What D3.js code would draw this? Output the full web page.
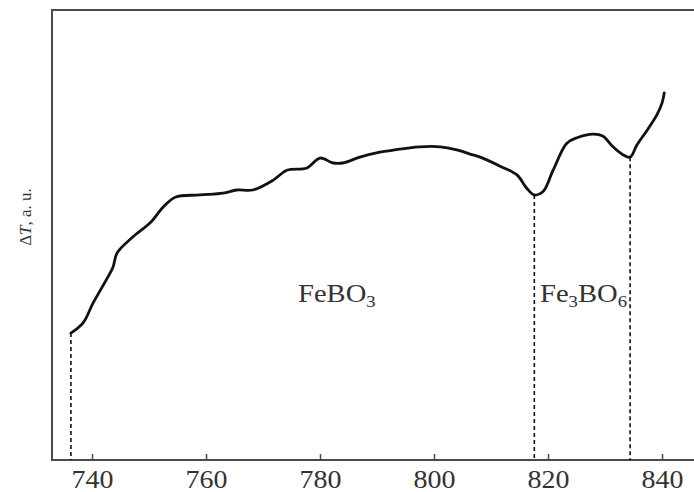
<!DOCTYPE html>
<html><head><meta charset="utf-8">
<script src="https://cdn.jsdelivr.net/npm/d3@7"></script>
<style>body{margin:0;background:#fff}svg{display:block}</style>
</head><body>
<svg id="c" width="694" height="492"></svg>
<script>
const tempX = [736.3,738.4,740.2,742.8,743.7,744.4,747.2,750.2,752.5,754.6,758.9,763.0,765.4,768.2,771.8,774.2,777.7,780.0,782.3,784.0,787.0,790.5,795.3,797.5,801.1,804.0,806.8,808.1,811.6,814.6,816.2,817.6,819.1,820.9,823.3,825.1,827.9,829.6,831.4,833.2,834.4,835.6,837.4,839.1,840.0,840.4];
const dT = [28.2,30.4,34.9,40.7,42.9,46.0,49.6,52.7,56.2,58.4,58.9,59.3,60.0,60.0,62.2,64.4,64.9,67.1,66.0,66.0,67.3,68.4,69.3,69.6,69.6,68.9,67.8,67.3,65.3,63.3,60.5,58.9,59.6,64.4,70.4,71.6,72.4,72.0,69.6,67.8,67.3,70.0,73.3,76.7,79.3,81.6];
const xTicks = [740,760,780,800,820,840];
const markerX = [736.3, 817.6, 834.4];
const markerY = [28.2, 58.9, 67.3];
const phaseLabels = [["Fe","","BO","3"],["Fe","3","BO","6"]];

(function(){
const svg = d3.select("#c");
const x = d3.scaleLinear().domain([740,840]).range([92,662]);
const y = d3.scaleLinear().domain([0,100]).range([460,10]);
const L = 52, R = 694, T = 10, B = 460;
const frameCol = "#4a4a4a";

svg.append("line").attr("x1",L).attr("x2",L).attr("y1",T).attr("y2",B)
  .attr("stroke",frameCol).attr("stroke-width",2);
svg.append("line").attr("x1",L-1).attr("x2",R).attr("y1",T).attr("y2",T)
  .attr("stroke",frameCol).attr("stroke-width",2);

const ax = svg.append("g").attr("transform",`translate(0,${B})`)
  .call(d3.axisBottom(x).tickValues(xTicks).tickSizeInner(-6).tickSizeOuter(0).tickPadding(10).tickFormat(d3.format("d")));
ax.select(".domain").remove();
ax.selectAll(".tick line").attr("stroke",frameCol).attr("stroke-width",1.5);
ax.selectAll(".tick text").attr("font-family","Liberation Serif, serif").attr("font-size",25)
  .attr("fill","#333").attr("x",0).attr("transform","scale(1.12,1)");
svg.append("line").attr("x1",L-1).attr("x2",R).attr("y1",B).attr("y2",B)
  .attr("stroke",frameCol).attr("stroke-width",2);

markerX.forEach((mx,i)=>{
  svg.append("line").attr("x1",x(mx)).attr("x2",x(mx)).attr("y1",y(markerY[i])).attr("y2",B)
    .attr("stroke","#111").attr("stroke-width",1.6).attr("stroke-dasharray","4,3");
});

const line = d3.line().x((d,i)=>x(tempX[i])).y((d,i)=>y(dT[i])).curve(d3.curveCatmullRom.alpha(0.5));
svg.append("path").datum(dT).attr("d",line).attr("fill","none").attr("stroke","#111")
  .attr("stroke-width",2.8).attr("stroke-linejoin","round").attr("stroke-linecap","round");

const yl = svg.append("text").attr("transform","translate(31,217) rotate(-90)")
  .attr("text-anchor","middle").attr("font-family","Liberation Serif, serif").attr("font-size",17).attr("fill","#333");
yl.append("tspan").text("Δ");
yl.append("tspan").attr("font-style","italic").text("T");
yl.append("tspan").text(", a. u.");

function chem(parts, px, py){
  const t = svg.append("text").attr("transform",`translate(${px},${py}) scale(1.1,1)`)
    .attr("font-family","Liberation Serif, serif").attr("font-size",26).attr("fill","#333");
  t.append("tspan").text(parts[0]);
  if(parts[1]) t.append("tspan").attr("font-size",17).attr("dy",5).text(parts[1]);
  t.append("tspan").attr("dy",parts[1]?-5:0).text(parts[2]);
  t.append("tspan").attr("font-size",17).attr("dy",5).text(parts[3]);
}
chem(phaseLabels[0], 298, 302);
chem(phaseLabels[1], 540, 302);
})();
</script>
</body></html>
